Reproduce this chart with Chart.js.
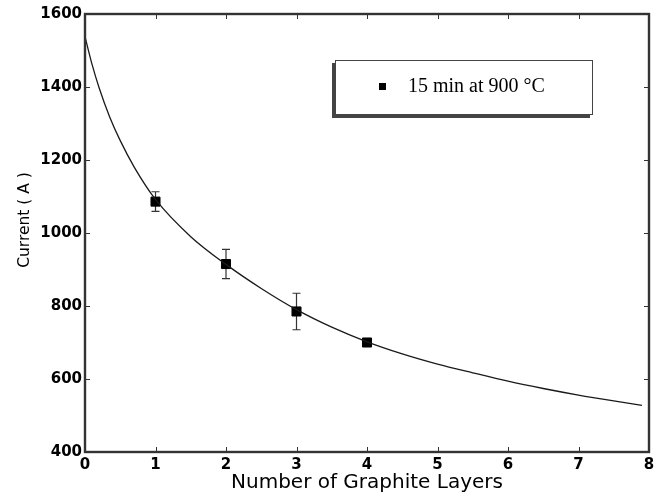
<!doctype html>
<html lang="en">
  <head>
    <meta charset="utf-8">
    <title>Current vs Graphite Layers</title>
    <style>
      html, body { margin: 0; padding: 0; background: #fff; }
      .chartBox { width: 662px; height: 497px; }
    </style>
  </head>
  <body>
    <div class="chartBox">
      <canvas id="myChart" width="662" height="497"></canvas>
    </div>
    <script src="https://cdn.jsdelivr.net/npm/chart.js"></script>
    <script>
      // measured points (15 min at 900 C)
      const layers = [1, 2, 3, 4];
      const current = [1086, 915, 785, 700];
      const currentErr = [27, 40, 50, 0];

      const fitX = [0, 0.1, 0.2, 0.35, 0.5, 0.7, 1.0, 1.5, 2.0, 2.5, 3.0, 3.5, 4.0, 4.5, 5.0, 5.5, 6.0, 6.5, 7.0, 7.5, 7.9];
      const fitY = [1538, 1462, 1398, 1318, 1253, 1180, 1092, 990, 914, 848, 790, 742, 702, 669, 641, 617, 594, 574, 556, 540, 528];

      const xTicks = [0, 1, 2, 3, 4, 5, 6, 7, 8];
      const yTicks = [400, 600, 800, 1000, 1200, 1400, 1600];
      const legendLabel = '15 min at 900 °C';
      const yTitle = 'Current ( A )';

      const data = {
        datasets: [
          {
            label: 'fit',
            type: 'line',
            data: fitX.map((x, i) => ({x: x, y: fitY[i]})),
            borderColor: '#1a1a1a',
            borderWidth: 1.3,
            pointRadius: 0,
            cubicInterpolationMode: 'monotone',
            fill: false
          },
          {
            label: legendLabel,
            type: 'scatter',
            data: layers.map((x, i) => ({x: x, y: current[i]})),
            backgroundColor: '#000',
            borderColor: '#000',
            pointStyle: 'rect',
            pointRadius: 6.4,
            pointHoverRadius: 6.4
          }
        ]
      };

      // error bars on the measured points
      const errorBars = {
        id: 'errorBars',
        beforeDatasetsDraw(chart) {
          const {ctx, scales: {x, y}} = chart;
          ctx.save();
          ctx.strokeStyle = '#333';
          ctx.lineWidth = 1.2;
          layers.forEach((l, i) => {
            if (!currentErr[i]) return;
            const px = x.getPixelForValue(l);
            const top = y.getPixelForValue(current[i] + currentErr[i]);
            const bot = y.getPixelForValue(current[i] - currentErr[i]);
            ctx.beginPath();
            ctx.moveTo(px, top); ctx.lineTo(px, bot);
            ctx.moveTo(px - 4, top); ctx.lineTo(px + 4, top);
            ctx.moveTo(px - 4, bot); ctx.lineTo(px + 4, bot);
            ctx.stroke();
          });
          ctx.restore();
        }
      };

      // box around the plot with inward ticks, y title and legend box
      const frame = {
        id: 'frame',
        afterDraw(chart) {
          const {ctx, chartArea: a, scales: {x, y}} = chart;
          ctx.save();
          ctx.strokeStyle = '#333';
          ctx.lineWidth = 1;
          ctx.beginPath();
          xTicks.forEach(v => {
            const px = Math.round(x.getPixelForValue(v)) + 0.5;
            ctx.moveTo(px, a.bottom); ctx.lineTo(px, a.bottom - 5);
            ctx.moveTo(px, a.top); ctx.lineTo(px, a.top + 5);
          });
          yTicks.forEach(v => {
            const py = Math.round(y.getPixelForValue(v)) + 0.5;
            ctx.moveTo(a.left, py); ctx.lineTo(a.left + 5, py);
            ctx.moveTo(a.right, py); ctx.lineTo(a.right - 5, py);
          });
          ctx.stroke();
          ctx.lineWidth = 2.4;
          ctx.strokeRect(a.left, a.top, a.right - a.left, a.bottom - a.top);

          // rotated y axis title
          ctx.save();
          ctx.translate(25, 220);
          ctx.rotate(-Math.PI / 2);
          ctx.fillStyle = '#000';
          ctx.font = '15.5px "DejaVu Sans"';
          ctx.textAlign = 'center';
          ctx.textBaseline = 'middle';
          ctx.fillText(yTitle, 0, 0);
          ctx.restore();

          // legend box with drop shadow
          const bx = 335, by = 60, bw = 258, bh = 55;
          ctx.fillStyle = '#444';
          ctx.fillRect(bx - 3, by + 3, bw, bh);
          ctx.fillStyle = '#fff';
          ctx.fillRect(bx, by, bw, bh);
          ctx.lineWidth = 1;
          ctx.strokeStyle = '#444';
          ctx.strokeRect(bx + 0.5, by + 0.5, bw - 1, bh - 1);
          ctx.fillStyle = '#000';
          ctx.fillRect(379, 83, 7, 7);
          ctx.font = '20px "Liberation Serif", serif';
          ctx.textBaseline = 'alphabetic';
          ctx.fillText(legendLabel, 408, 92);
          ctx.restore();
        }
      };

      const tickFont = {family: 'DejaVu Sans', size: 15, weight: 'bold'};

      const config = {
        type: 'scatter',
        data,
        options: {
          responsive: false,
          animation: false,
          layout: {padding: {top: 14, right: 13, left: 0, bottom: 0}},
          scales: {
            x: {
              type: 'linear',
              min: 0,
              max: 8,
              afterFit(scale) { scale.height = 45; },
              afterBuildTicks(scale) { scale.ticks = xTicks.map(v => ({value: v})); },
              grid: {display: false, drawTicks: false},
              border: {display: false},
              ticks: {
                color: '#000',
                padding: 4,
                font: tickFont,
                callback: v => String(v)
              },
              title: {
                display: true,
                text: 'Number of Graphite Layers',
                color: '#000',
                padding: {bottom: 2, top: 0},
                font: {family: 'DejaVu Sans', size: 20}
              }
            },
            y: {
              type: 'linear',
              min: 400,
              max: 1600,
              afterFit(scale) { scale.width = 85; },
              afterBuildTicks(scale) { scale.ticks = yTicks.map(v => ({value: v})); },
              grid: {display: false, drawTicks: false},
              border: {display: false},
              ticks: {
                color: '#000',
                padding: 3,
                font: tickFont,
                callback: v => String(v)
              }
            }
          },
          plugins: {
            legend: {display: false},
            tooltip: {enabled: false}
          }
        },
        plugins: [errorBars, frame]
      };

      const myChart = new Chart(document.getElementById('myChart'), config);
    </script>
  </body>
</html>
